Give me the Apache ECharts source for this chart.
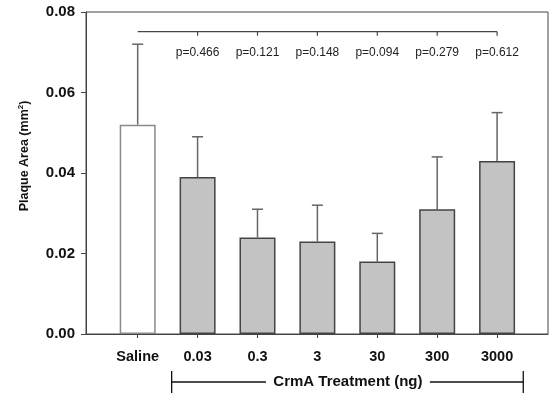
<!DOCTYPE html>
<html><head><meta charset="utf-8">
<script src="https://cdn.jsdelivr.net/npm/echarts@6/dist/echarts.min.js"></script>
<style>html,body{margin:0;padding:0;background:#fff}#c{width:553px;height:396px}</style>
</head><body><div id="c"></div>
<script>
const categories = ['Saline', '0.03', '0.3', '3', '30', '300', '3000'];
const means = [0.052, 0.039, 0.024, 0.023, 0.018, 0.031, 0.043];
const errTops = [0.072, 0.049, 0.031, 0.032, 0.025, 0.044, 0.055];
const pValues = ['', 'p=0.466', 'p=0.121', 'p=0.148', 'p=0.094', 'p=0.279', 'p=0.612'];
const yTicks = [0, 0.02, 0.04, 0.06, 0.08];

const FONT = 'Liberation Sans, Arial, sans-serif';
const idx = categories.map((c, i) => i);
const barData = means.map((m, i) => ({
  value: [i, m],
  itemStyle: i === 0 ? { color: '#ffffff', borderColor: '#8a8a8a' } : { color: '#c3c3c3', borderColor: '#444' }
}));
const errData = means.map((m, i) => [i, m, errTops[i]]);
const pData = pValues.map((p, i) => [i]);

const chart = echarts.init(document.getElementById('c'));
chart.setOption({
  animation: false,
  grid: { left: 86, top: 12, right: 5, bottom: 62, show: true, borderColor: '#444', borderWidth: 1 },
  xAxis: {
    type: 'value', min: -0.863, max: 6.85,
    splitLine: { show: false },
    axisLine: { onZero: false, lineStyle: { color: '#444' } },
    axisTick: { customValues: idx, length: 4, lineStyle: { color: '#444' } },
    axisLabel: { customValues: idx, formatter: v => categories[Math.round(v)], margin: 15,
      fontFamily: FONT, fontWeight: 'bold', fontSize: 14.5, color: '#111' }
  },
  yAxis: {
    type: 'value', min: yTicks[0], max: yTicks[yTicks.length - 1], interval: 0.02,
    splitLine: { show: false },
    axisLine: { show: true, onZero: false, lineStyle: { color: '#444' } },
    axisTick: { show: true, length: 5, lineStyle: { color: '#444' } },
    axisLabel: { formatter: v => v.toFixed(2), margin: 11, fontFamily: FONT, fontWeight: 'bold', fontSize: 15, color: '#111' }
  },
  graphic: [{
    type: 'text', x: 25, y: 156, rotation: Math.PI / 2,
    style: {
      text: 'Plaque Area (mm{s|2})', align: 'center', verticalAlign: 'middle',
      font: 'bold 12.5px ' + FONT, fill: '#111',
      rich: { s: { fontSize: 8, fontWeight: 'bold', fontFamily: FONT, verticalAlign: 'top', padding: [0, 0, 8, 0] } }
    }
  }],
  series: [
    {
      type: 'bar', data: barData, barWidth: 36,
      itemStyle: { borderWidth: 1.5 }
    },
    {
      type: 'custom', data: errData, z: 1,
      renderItem: (params, api) => {
        const x = api.value(0);
        const p0 = api.coord([x, api.value(1)]);
        const p1 = api.coord([x, api.value(2)]);
        const st = { stroke: '#666', lineWidth: 1.5 };
        return { type: 'group', children: [
          { type: 'line', shape: { x1: p0[0], y1: p0[1], x2: p1[0], y2: p1[1] }, style: st },
          { type: 'line', shape: { x1: p1[0] - 5.5, y1: p1[1], x2: p1[0] + 5.5, y2: p1[1] }, style: st }
        ]};
      }
    },
    {
      type: 'custom', data: pData, z: 3,
      renderItem: (params, api) => {
        const i = params.dataIndex;
        const yLine = 0.0751, yText = 0.0700;
        const pl = api.coord([i, yLine]);
        const children = [];
        if (i === 0) {
          const pe = api.coord([pValues.length - 1, yLine]);
          children.push({ type: 'line', shape: { x1: pl[0], y1: pl[1], x2: pe[0], y2: pe[1] }, style: { stroke: '#444', lineWidth: 1.2 } });
        } else {
          children.push({ type: 'line', shape: { x1: pl[0], y1: pl[1], x2: pl[0], y2: pl[1] + 4 }, style: { stroke: '#444', lineWidth: 1.2 } });
          const pt = api.coord([i, yText]);
          children.push({ type: 'text', x: pt[0], y: pt[1], style: { text: pValues[i], align: 'center', verticalAlign: 'middle', font: '12px ' + FONT, fill: '#222' } });
        }
        return { type: 'group', children };
      }
    },
    {
      type: 'custom', data: [[0]], clip: false, silent: true,
      renderItem: (params, api) => {
        const base = api.coord([0, 0])[1];
        const y = base + 48;
        const xl = api.coord([0.567, 0])[0];
        const xr = api.coord([6.437, 0])[0];
        const xm = api.coord([3.51, 0])[0];
        const st = { stroke: '#111', lineWidth: 1.3 };
        return { type: 'group', children: [
          { type: 'line', shape: { x1: xl, y1: y - 11, x2: xl, y2: y + 11 }, style: st },
          { type: 'line', shape: { x1: xr, y1: y - 11, x2: xr, y2: y + 11 }, style: st },
          { type: 'line', shape: { x1: xl, y1: y, x2: xm - 82, y2: y }, style: st },
          { type: 'line', shape: { x1: xm + 82, y1: y, x2: xr, y2: y }, style: st },
          { type: 'text', x: xm, y: y, style: { text: 'CrmA Treatment (ng)', align: 'center', verticalAlign: 'middle', font: 'bold 15px ' + FONT, fill: '#111' } }
        ]};
      }
    }
  ]
});
</script></body></html>
